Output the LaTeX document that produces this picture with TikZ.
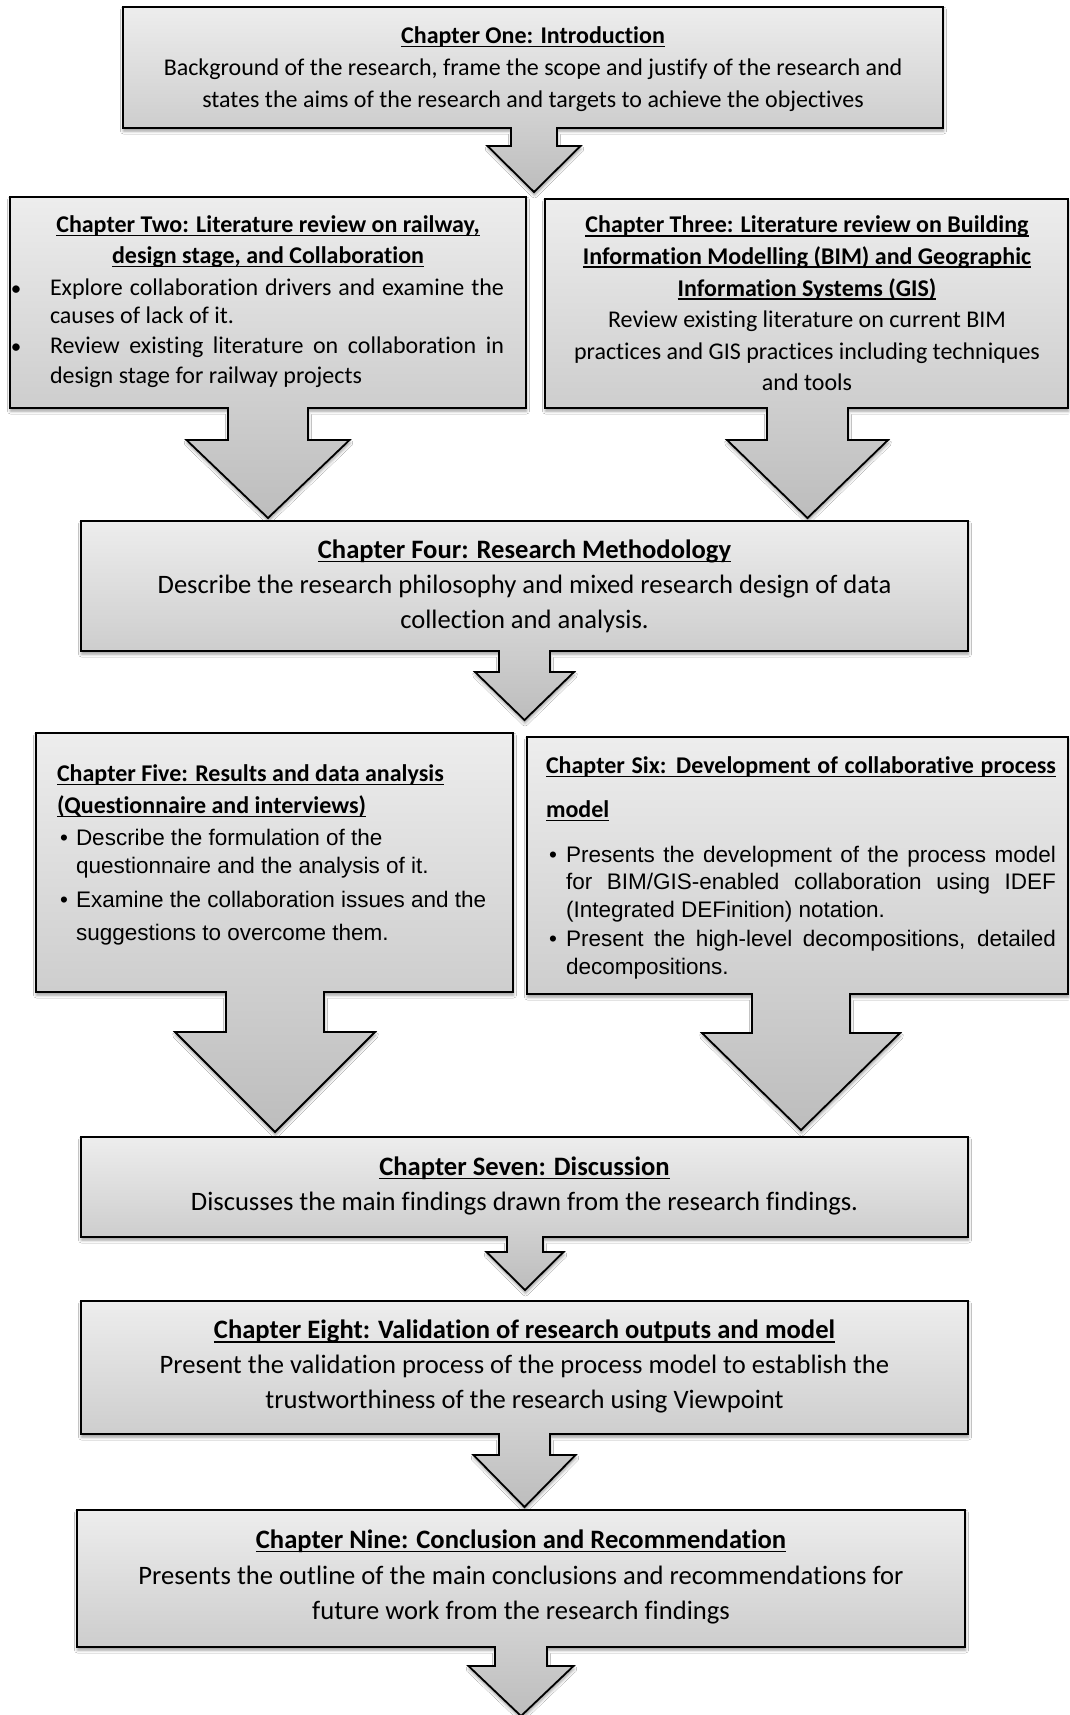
\documentclass[tikz,border=0pt]{standalone}
\usepackage{fontspec}
\setmainfont{Carlito}[Ligatures=NoCommon]
\newfontfamily\arialfam{Liberation Sans}[Ligatures=NoCommon]
\usetikzlibrary{shadows.blur}

% underlined bold chapter heading
\newcommand\ttl[1]{\setbox0\hbox{\bfseries#1}\rlap{\rule[-0.15em]{\wd0}{0.055em}}\box0}

% box with an attached block arrow:
% #1 left, #2 top, #3 right, #4 bottom, #5 arrow axis x,
% #6 stem half width, #7 head half width, #8 head top y, #9 tip y
\newcommand\chapshape[9]{%
  \path[chapbox] (#1,#2) -- (#3,#2) -- (#3,#4) -- ({#5+#6},#4) -- ({#5+#6},#8)
    -- ({#5+#7},#8) -- (#5,#9) -- ({#5-#7},#8) -- ({#5-#6},#8)
    -- ({#5-#6},#4) -- (#1,#4) -- cycle;}

\tikzset{
  chapbox/.style={draw=black, line width=1.8pt, miter limit=4,
    top color=white!93!black, bottom color=white!74!black,
    blur shadow={shadow xshift=0.5pt, shadow yshift=-3pt,
      shadow blur radius=3pt, shadow opacity=40}},
  ln/.style={inner sep=0pt, outer sep=0pt, anchor=base},
  lnw/.style={ln, anchor=base west},
  cal/.style={font=\fontsize{24}{29}\selectfont},
  calL/.style={font=\fontsize{26.6}{32}\selectfont},
  dot/.style={font=\fontsize{21}{24}\selectfont},
  ari/.style={font=\arialfam\fontsize{22.5}{26}\selectfont},
}

\begin{document}
\begin{tikzpicture}[x=1pt, y=-1pt]
\useasboundingbox[fill=white] (0,0) rectangle (1069,1715);

% ---- shapes ----
\chapshape{123}{7}{943}{128}{534}{23}{46.5}{146}{192}
\chapshape{10}{197}{526}{408}{268}{40}{81.5}{440}{518}
\chapshape{545}{199}{1068}{408}{807.5}{40.5}{80.5}{440}{518}
\chapshape{81}{521}{968}{651}{524.5}{25.5}{49.5}{672}{720}
\chapshape{36}{733}{513}{992}{275}{49}{100}{1032}{1132}
\chapshape{527}{737}{1068}{994}{801}{49}{99}{1033}{1130}
\chapshape{81}{1137}{968}{1237}{525}{18}{38.5}{1252}{1290}
\chapshape{81}{1301}{968}{1434}{524.5}{25.5}{51}{1455}{1507}
\chapshape{77}{1510}{965}{1647}{521}{26}{52.5}{1666}{1716}

% ---- Chapter One ----
\node[ln, cal] (c1t) at (533,43.5) {\ttl{Chapter One: Introduction}};
\node[ln, cal] (c1a) at (533,75.5) {Background of the research, frame the scope and justify of the research and};
\node[ln, cal] (c1b) at (533,108) {states the aims of the research and targets to achieve the objectives};

% ---- Chapter Two ----
\node[ln, cal] (c2t) at (268,232.5) {\ttl{Chapter Two: Literature review on railway,}};
\node[ln, cal] (c2u) at (268,263.5) {\ttl{design stage, and Collaboration}};
\node[ln, dot] (c2p1) at (16,295) {\textbullet};
\node[lnw, cal] (c2a) at (50,295.5) {\makebox[454pt][s]{Explore collaboration drivers and examine the}};
\node[lnw, cal] (c2b) at (50,323.5) {causes of lack of it.};
\node[ln, dot] (c2p2) at (16,353) {\textbullet};
\node[lnw, cal] (c2c) at (50,353.5) {\makebox[454pt][s]{Review existing literature on collaboration in}};
\node[lnw, cal] (c2d) at (50,383.5) {design stage for railway projects};

% ---- Chapter Three ----
\node[ln, cal] (c3t) at (807,233) {\ttl{Chapter Three: Literature review on Building}};
\node[ln, cal] (c3u) at (807,264) {\ttl{Information Modelling (BIM) and Geographic}};
\node[ln, cal] (c3v) at (807,296) {\ttl{Information Systems (GIS)}};
\node[ln, cal] (c3a) at (807,327.5) {Review existing literature on current BIM};
\node[ln, cal] (c3b) at (807,359.5) {practices and GIS practices including techniques};
\node[ln, cal] (c3c) at (807,390.5) {and tools};

% ---- Chapter Four ----
\node[ln, calL] (c4t) at (524.5,558) {\ttl{Chapter Four: Research Methodology}};
\node[ln, calL] (c4a) at (524.5,593.5) {Describe the research philosophy and mixed research design of data};
\node[ln, calL] (c4b) at (524.5,628) {collection and analysis.};

% ---- Chapter Five ----
\node[lnw, cal] (c5t) at (57,781.5) {\ttl{Chapter Five: Results and data analysis}};
\node[lnw, cal] (c5u) at (57,813.5) {\ttl{(Questionnaire and interviews)}};
\node[ln, ari] (c5p1) at (64,845) {\textbullet};
\node[lnw, ari] (c5a) at (76,845) {Describe the formulation of the};
\node[lnw, ari] (c5b) at (76,873) {questionnaire and the analysis of it.};
\node[ln, ari] (c5p2) at (64,907.5) {\textbullet};
\node[lnw, ari] (c5c) at (76,907.5) {Examine the collaboration issues and the};
\node[lnw, ari] (c5d) at (76,940) {suggestions to overcome them.};

% ---- Chapter Six ----
\node[lnw, cal] (c6t) at (546,773.5) {\ttl{\makebox[510pt][s]{Chapter Six: Development of collaborative process}}};
\node[lnw, cal] (c6u) at (546,817.5) {\ttl{model}};
\node[ln, ari] (c6p1) at (553,862) {\textbullet};
\node[lnw, ari] (c6a) at (566,862) {\makebox[490pt][s]{Presents the development of the process model}};
\node[lnw, ari] (c6b) at (566,889) {\makebox[490pt][s]{for BIM/GIS-enabled collaboration using IDEF}};
\node[lnw, ari] (c6c) at (566,917) {(Integrated DEFinition) notation.};
\node[ln, ari] (c6p2) at (553,946) {\textbullet};
\node[lnw, ari] (c6d) at (566,946) {\makebox[490pt][s]{Present the high-level decompositions, detailed}};
\node[lnw, ari] (c6e) at (566,974) {decompositions.};

% ---- Chapter Seven ----
\node[ln, calL] (c7t) at (524.5,1175) {\ttl{Chapter Seven: Discussion}};
\node[ln, calL] (c7a) at (524.5,1210.5) {Discusses the main findings drawn from the research findings.};

% ---- Chapter Eight ----
\node[ln, calL] (c8t) at (524.5,1338.5) {\ttl{Chapter Eight: Validation of research outputs and model}};
\node[ln, calL] (c8a) at (524.5,1373.5) {Present the validation process of the process model to establish the};
\node[ln, calL] (c8b) at (524.5,1408.5) {trustworthiness of the research using Viewpoint};

% ---- Chapter Nine ----
\node[ln, calL] (c9t) at (521,1548) {\ttl{Chapter Nine: Conclusion and Recommendation}};
\node[ln, calL] (c9a) at (521,1584) {Presents the outline of the main conclusions and recommendations for};
\node[ln, calL] (c9b) at (521,1619) {future work from the research findings};
\end{tikzpicture}
\end{document}
